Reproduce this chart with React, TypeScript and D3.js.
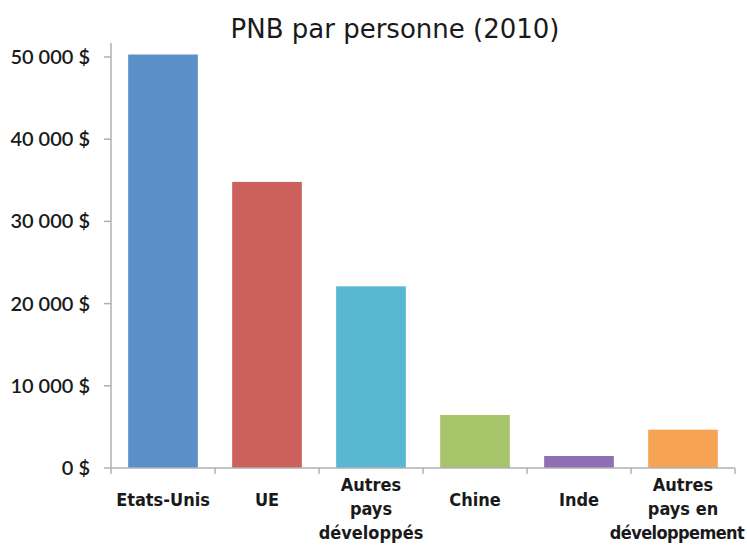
import React, { useEffect, useRef } from 'react';
import * as d3 from 'd3';

const categories = ['Etats-Unis', 'UE', 'Autres pays développés', 'Chine', 'Inde', 'Autres pays en développement'];
const labelLines = [['Etats-Unis'], ['UE'], ['Autres', 'pays', 'développés'], ['Chine'], ['Inde'], ['Autres', 'pays en', 'développement']];
const values = [50300, 34800, 22100, 6450, 1460, 4660];
const colors = ['#5b8fc8', '#cc605a', '#58b8d3', '#a6c46a', '#8e6fb3', '#f7a356'];
const yTicks = [0, 10000, 20000, 30000, 40000, 50000];
const yTickLabels = ['0 $', '10 000 $', '20 000 $', '30 000 $', '40 000 $', '50 000 $'];

const W = 747;
const H = 552;

const App: React.FC = () => {
    const svgRef = useRef<SVGSVGElement>(null);

    useEffect(() => {
        if (!svgRef.current) return;
        const svg = d3.select(svgRef.current);
        svg.selectAll('*').remove();

        const margin = { top: 43, right: 12, bottom: 84, left: 111 };
        const width = W - margin.left - margin.right;
        const height = H - margin.top - margin.bottom;

        const x = d3.scaleBand<string>()
            .domain(categories)
            .range([0, width])
            .paddingInner(0.33)
            .paddingOuter(0.165);

        const y = d3.scaleLinear()
            .domain([0, 51700])
            .range([height, 0]);

        // Title
        svg.append('text')
            .attr('x', 395)
            .attr('y', 38)
            .attr('text-anchor', 'middle')
            .attr('font-family', 'DejaVu Sans')
            .attr('font-size', '26px')
            .attr('fill', '#1a1a1a')
            .text('PNB par personne (2010)');

        const g = svg.append('g')
            .attr('transform', `translate(${margin.left},${margin.top})`);

        // Bars
        g.selectAll('rect.bar')
            .data(values)
            .join('rect')
            .attr('class', 'bar')
            .attr('x', (_, i) => x(categories[i]) as number)
            .attr('y', d => y(d))
            .attr('width', x.bandwidth())
            .attr('height', d => height - y(d))
            .attr('fill', (_, i) => colors[i]);

        // Y axis
        g.append('line')
            .attr('x1', 0).attr('x2', 0)
            .attr('y1', 0).attr('y2', height)
            .attr('stroke', '#b0b0b0')
            .attr('stroke-width', 1.5);

        yTicks.forEach((t, i) => {
            g.append('line')
                .attr('x1', -7).attr('x2', 0)
                .attr('y1', y(t)).attr('y2', y(t))
                .attr('stroke', '#b0b0b0')
                .attr('stroke-width', 1.5);
            g.append('text')
                .attr('x', -21)
                .attr('y', y(t))
                .attr('dy', '0.35em')
                .attr('text-anchor', 'end')
                .attr('font-family', 'Lato')
                .attr('font-weight', 600)
                .attr('font-size', '20px')
                .attr('fill', '#1a1a1a')
                .text(yTickLabels[i]);
        });

        // X axis
        g.append('line')
            .attr('x1', 0).attr('x2', width)
            .attr('y1', height).attr('y2', height)
            .attr('stroke', '#b0b0b0')
            .attr('stroke-width', 1.5);

        const step = x.step();
        d3.range(categories.length + 1).forEach(i => {
            g.append('line')
                .attr('x1', i * step).attr('x2', i * step)
                .attr('y1', height).attr('y2', height + 6)
                .attr('stroke', '#b0b0b0')
                .attr('stroke-width', 1.5);
        });

        // Category labels
        categories.forEach((c, i) => {
            const cx = (x(c) as number) + x.bandwidth() / 2;
            const lines = labelLines[i];
            const y0 = lines.length === 1 ? height + 38 : height + 23;
            const t = g.append('text')
                .attr('text-anchor', 'middle')
                .attr('font-family', 'DejaVu Sans Condensed')
                .attr('font-weight', 'bold')
                .attr('font-size', '18px')
                .attr('fill', '#1a1a1a');
            lines.forEach((ln, j) => {
                const long = ln.length > 11;
                t.append('tspan')
                    .attr('x', long ? Math.min(cx, width + margin.right - 70) : cx)
                    .attr('y', y0 + j * 24)
                    .attr('letter-spacing', long ? -0.6 : 0)
                    .text(ln);
            });
        });
    }, []);

    return (
        <svg
            ref={svgRef}
            width={W}
            height={H}
            style={{ position: 'absolute', left: 0, top: 0, display: 'block', background: '#fff' }}
        />
    );
};

export default App;
